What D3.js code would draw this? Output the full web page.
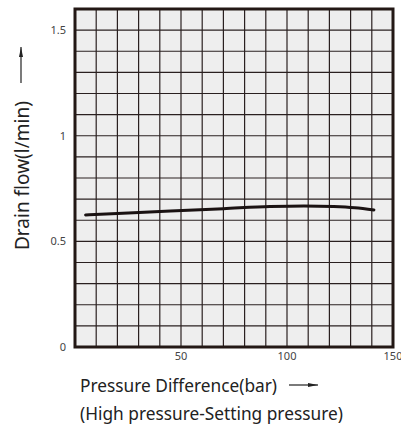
<!DOCTYPE html>
<html>
<head>
<meta charset="utf-8">
<script src="https://cdn.jsdelivr.net/npm/d3@7"></script>
<style>
  html, body { margin: 0; padding: 0; background: #fff; overflow: hidden; }
  svg { display: block; }
  text { font-family: "Noto Sans", sans-serif; }
</style>
</head>
<body>
<svg id="svg0"></svg>
<script>
// values
var pressure = [5, 20, 45, 70, 92, 108, 122, 132, 141];
var flow = [0.625, 0.632, 0.644, 0.655, 0.665, 0.668, 0.665, 0.659, 0.649];
var xTicks = [50, 100, 150];
var yTicks = [0, 0.5, 1, 1.5];
var xTitle = "Pressure Difference(bar)";
var xSub = "(High pressure-Setting pressure)";
var yTitle = "Drain flow(l/min)";

var W = 401, H = 428;
var margin = { top: 9, left: 75, right: 8, bottom: 81 };
var width = W - margin.left - margin.right,
    height = H - margin.top - margin.bottom;

var svg = d3.select('#svg0')
            .attr("width", W)
            .attr("height", H);

var defs = svg.append("defs");
defs.append("marker")
    .attr("id", "arr")
    .attr("viewBox", "0 0 10 4")
    .attr("refX", 10).attr("refY", 2)
    .attr("markerWidth", 10).attr("markerHeight", 4)
    .attr("markerUnits", "userSpaceOnUse")
    .attr("orient", "auto")
    .append("path")
    .attr("d", "M0,0 L10,2 L0,4 Z")
    .attr("fill", "#222");

var g = svg.append("g")
           .attr("transform", "translate(" + margin.left + "," + margin.top + ")");

var x = d3.scaleLinear().domain([0, 150]).range([0, width]);
var y = d3.scaleLinear().domain([0, 1.6]).range([height, 0]);

g.append("rect")
 .attr("width", width).attr("height", height)
 .attr("fill", "#eeeeee");

// grid
g.append("g")
 .selectAll("line")
 .data(d3.range(10, 150, 10))
 .enter().append("line")
 .attr("x1", function (d) { return x(d); })
 .attr("x2", function (d) { return x(d); })
 .attr("y1", 0).attr("y2", height)
 .attr("stroke", "#2a2020").attr("stroke-width", 1.2);

g.append("g")
 .selectAll("line")
 .data(d3.range(1, 16).map(function (i) { return i / 10; }))
 .enter().append("line")
 .attr("y1", function (d) { return y(d); })
 .attr("y2", function (d) { return y(d); })
 .attr("x1", 0).attr("x2", width)
 .attr("stroke", "#2a2020").attr("stroke-width", 1.2);

g.append("rect")
 .attr("width", width).attr("height", height)
 .attr("fill", "none")
 .attr("stroke", "#231815").attr("stroke-width", 3);

// curve
var line = d3.line()
             .x(function (d, i) { return x(pressure[i]); })
             .y(function (d) { return y(d); })
             .curve(d3.curveMonotoneX);

g.append("path")
 .datum(flow)
 .attr("d", line)
 .attr("fill", "none")
 .attr("stroke", "#1a1212")
 .attr("stroke-width", 3)
 .attr("stroke-linecap", "round");

// tick labels
g.selectAll(".xt")
 .data(xTicks)
 .enter().append("text")
 .attr("x", function (d) { return x(d); })
 .attr("y", height + 13)
 .attr("text-anchor", "middle")
 .style("font-size", "11px")
 .attr("fill", "#444")
 .text(function (d) { return d; });

g.selectAll(".yt")
 .data(yTicks)
 .enter().append("text")
 .attr("x", -9)
 .attr("y", function (d) { return y(d); })
 .attr("dy", "0.35em")
 .attr("text-anchor", "end")
 .style("font-size", "11px")
 .attr("fill", "#444")
 .text(function (d) { return d; });

// titles
svg.append("text")
   .attr("x", 80).attr("y", 392)
   .style("font-size", "17.3px")
   .attr("fill", "#222")
   .text(xTitle);

svg.append("line")
   .attr("x1", 289).attr("x2", 318)
   .attr("y1", 385).attr("y2", 385)
   .attr("stroke", "#222").attr("stroke-width", 1.2)
   .attr("marker-end", "url(#arr)");

svg.append("text")
   .attr("x", 80).attr("y", 420)
   .style("font-size", "17.3px")
   .attr("fill", "#222")
   .text(xSub);

svg.append("text")
   .attr("transform", "translate(29,250) rotate(-90)")
   .style("font-size", "19px")
   .attr("fill", "#222")
   .text(yTitle);

svg.append("line")
   .attr("x1", 21).attr("x2", 21)
   .attr("y1", 83).attr("y2", 47)
   .attr("stroke", "#222").attr("stroke-width", 1.2)
   .attr("marker-end", "url(#arr)");
</script>
</body>
</html>
